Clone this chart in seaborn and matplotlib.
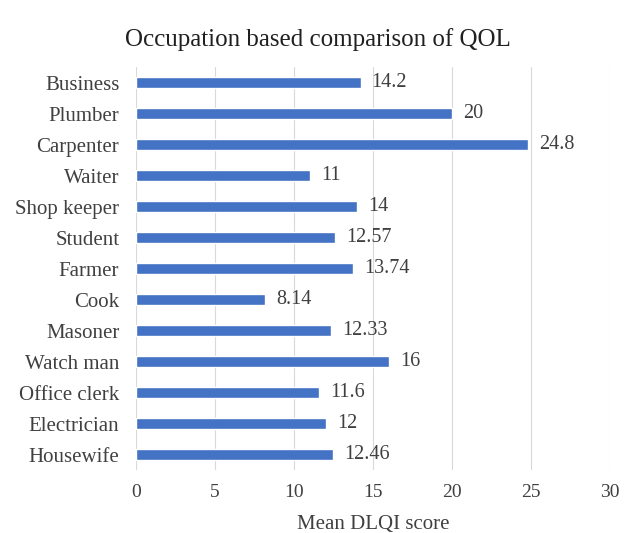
import numpy as np
import pandas as pd
import matplotlib
matplotlib.use("Agg")
import matplotlib.pyplot as plt
import seaborn as sns

occupations = ["Business", "Plumber", "Carpenter", "Waiter", "Shop keeper", "Student",
               "Farmer", "Cook", "Masoner", "Watch man", "Office clerk", "Electrician",
               "Housewife"]
scores = [14.2, 20, 24.8, 11, 14, 12.57, 13.74, 8.14, 12.33, 16, 11.6, 12, 12.46]
score_labels = ["14.2", "20", "24.8", "11", "14", "12.57", "13.74", "8.14", "12.33",
                "16", "11.6", "12", "12.46"]

df = pd.DataFrame({"Occupation": occupations, "Score": scores})

sns.set_style("white")
plt.rcParams['font.family'] = ['Liberation Serif', 'DejaVu Serif']

fig = plt.figure(figsize=(6.24, 5.33), dpi=100)
ax = fig.add_axes([0.218, 0.118, 0.76, 0.756])

sns.barplot(data=df, x="Score", y="Occupation", color="#4472C4", width=0.36,
            saturation=1, ax=ax, zorder=3)

# value labels to the right of each bar
for i, (v, lab) in enumerate(zip(scores, score_labels)):
    ax.text(v + 0.7, i, lab, va="center", ha="left", fontsize=14.5, color="#404040")

ax.set_xlim(0, 30)
ax.set_xticks(range(0, 31, 5))
ax.set_ylim(12.5, -0.5)
ax.xaxis.grid(True, color="#d9d9d9", linewidth=0.8, zorder=0)
ax.yaxis.grid(False)
for s in ax.spines.values():
    s.set_visible(False)
ax.tick_params(axis="both", length=0, colors="#404040")
ax.tick_params(axis="y", labelsize=15, pad=12)
ax.tick_params(axis="x", labelsize=14, pad=10)
ax.set_ylabel("")
ax.set_xlabel("Mean DLQI score", fontsize=15, color="#404040", labelpad=10)
fig.text(0.509, 0.926, "Occupation based comparison of QOL", ha="center", va="center",
         fontsize=18, color="#202020")

fig.savefig("out.png", dpi=100)
